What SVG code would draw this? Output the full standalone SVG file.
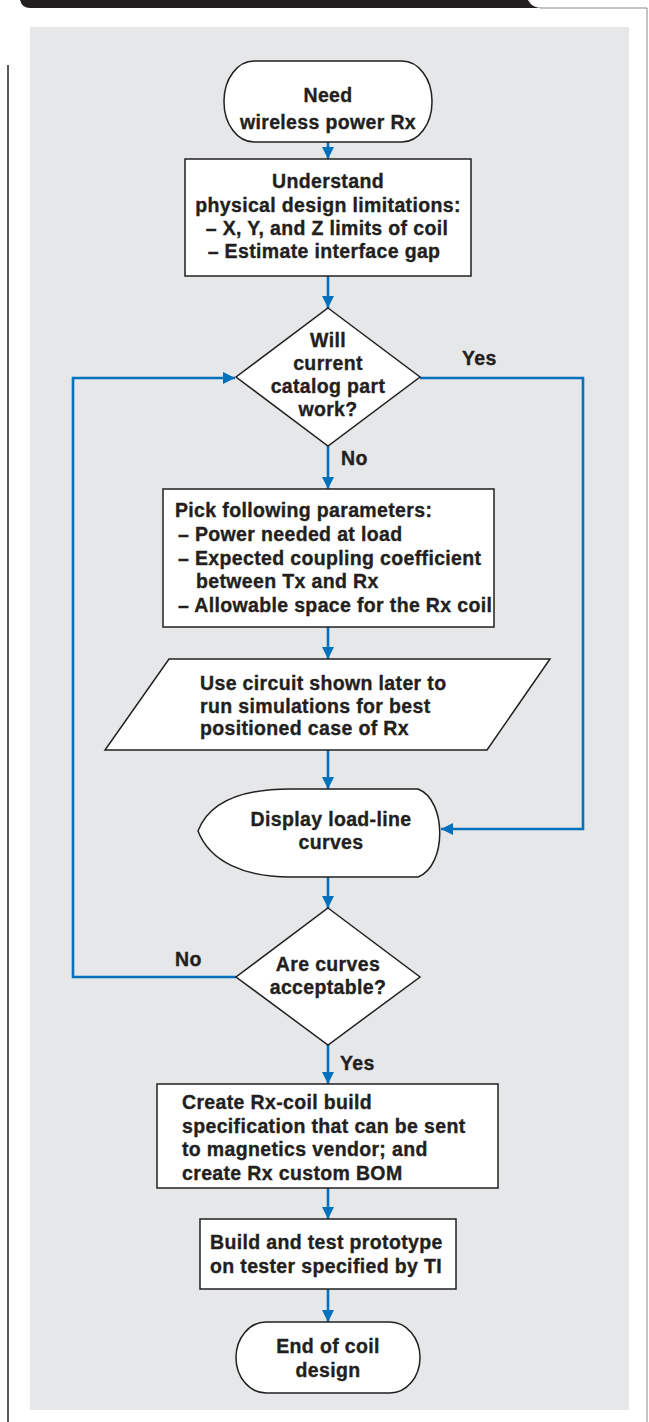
<svg xmlns="http://www.w3.org/2000/svg" width="649" height="1422" viewBox="0 0 649 1422">
  <defs>
    <marker id="arrow" markerUnits="userSpaceOnUse" markerWidth="13" markerHeight="13" refX="12" refY="6" orient="auto">
      <path d="M0,0 L12,6 L0,12 Z" fill="#0071bc"/>
    </marker>
    <style>
      .shape { fill: #ffffff; stroke: #231f20; stroke-width: 1.5; }
      .conn { fill: none; stroke: #0071bc; stroke-width: 2.6; }
      .t { font-family: "Liberation Sans", Arial, sans-serif; font-weight: bold; font-size: 19.5px; letter-spacing: 0.35px; fill: #231f20; stroke: #231f20; stroke-width: 0.35; }
      .c { text-anchor: middle; }
    </style>
  </defs>

  <!-- page frame -->
  <rect x="0" y="0" width="649" height="1422" fill="#ffffff"/>
  <path d="M20,0 L528,0 Q532,8 542,8 L30,8 Q22,8 20,0 Z" fill="#231f20"/>
  <path d="M540,8 L647,8 L647,1422" fill="none" stroke="#8a8a8a" stroke-width="1"/>
  <line x1="8" y1="65" x2="8" y2="1422" stroke="#231f20" stroke-width="1.5"/>
  <rect x="30" y="27" width="599" height="1383" fill="#e6e7e8"/>

  <!-- connectors -->
  <g id="connectors">
    <path class="conn" d="M328,142 L328,159" marker-end="url(#arrow)"/>
    <path class="conn" d="M328,276 L328,308" marker-end="url(#arrow)"/>
    <path class="conn" d="M328,446 L328,489" marker-end="url(#arrow)"/>
    <path class="conn" d="M328,627 L328,659" marker-end="url(#arrow)"/>
    <path class="conn" d="M328,750 L328,789" marker-end="url(#arrow)"/>
    <path class="conn" d="M420,378 L583,378 L583,829 L441,829" marker-end="url(#arrow)"/>
    <path class="conn" d="M328,877 L328,908" marker-end="url(#arrow)"/>
    <path class="conn" d="M236,977 L73,977 L73,378 L235,378" marker-end="url(#arrow)"/>
    <path class="conn" d="M328,1045 L328,1084" marker-end="url(#arrow)"/>
    <path class="conn" d="M328,1188 L328,1219" marker-end="url(#arrow)"/>
    <path class="conn" d="M328,1289 L328,1322" marker-end="url(#arrow)"/>
    <text class="t" x="462" y="365">Yes</text>
    <text class="t" x="341" y="465">No</text>
    <text class="t" x="175" y="966">No</text>
    <text class="t" x="340" y="1070">Yes</text>
  </g>

  <g id="start">
    <rect class="shape" x="224" y="61" width="208" height="81" rx="30" ry="40"/>
    <text class="t c" x="328" y="102">Need</text>
    <text class="t c" x="328" y="129">wireless power Rx</text>
  </g>

  <g id="limits">
    <rect class="shape" x="185" y="159" width="286" height="117"/>
    <text class="t c" x="328" y="188">Understand</text>
    <text class="t c" x="328" y="212">physical design limitations:</text>
    <text class="t c" x="327" y="235">– X, Y, and Z limits of coil</text>
    <text class="t c" x="324" y="258">– Estimate interface gap</text>
  </g>

  <g id="catalog">
    <path class="shape" d="M328,308 L420,377 L328,446 L236,377 Z"/>
    <text class="t c" x="328" y="347">Will</text>
    <text class="t c" x="328" y="370">current</text>
    <text class="t c" x="328" y="393">catalog part</text>
    <text class="t c" x="328" y="416">work?</text>
  </g>

  <g id="parameters">
    <rect class="shape" x="163" y="489" width="331" height="138"/>
    <text class="t" x="175" y="517">Pick following parameters:</text>
    <text class="t" x="178" y="541">– Power needed at load</text>
    <text class="t" x="178" y="565">– Expected coupling coefficient</text>
    <text class="t" x="196" y="588">between Tx and Rx</text>
    <text class="t" x="178" y="612">– Allowable space for the Rx coil</text>
  </g>

  <g id="simulate">
    <path class="shape" d="M169,659 L550,659 L487,750 L105,750 Z"/>
    <text class="t" x="200" y="690">Use circuit shown later to</text>
    <text class="t" x="200" y="713">run simulations for best</text>
    <text class="t" x="200" y="735">positioned case of Rx</text>
  </g>

  <g id="display">
    <path class="shape" d="M198,831 C210,800 245,789 290,789 L418,789 C447,800 447,866 418,877 L290,877 C245,877 210,862 198,831 Z"/>
    <text class="t c" x="331" y="826">Display load-line</text>
    <text class="t c" x="331" y="849">curves</text>
  </g>

  <g id="acceptable">
    <path class="shape" d="M328,908 L420,977 L328,1045 L236,977 Z"/>
    <text class="t c" x="328" y="971">Are curves</text>
    <text class="t c" x="328" y="994">acceptable?</text>
  </g>

  <g id="specification">
    <rect class="shape" x="157" y="1084" width="341" height="104"/>
    <text class="t" x="182" y="1109">Create Rx-coil build</text>
    <text class="t" x="182" y="1133">specification that can be sent</text>
    <text class="t" x="182" y="1156">to magnetics vendor; and</text>
    <text class="t" x="182" y="1180">create Rx custom BOM</text>
  </g>

  <g id="prototype">
    <rect class="shape" x="200" y="1219" width="256" height="70"/>
    <text class="t" x="210" y="1249">Build and test prototype</text>
    <text class="t" x="210" y="1273">on tester specified by TI</text>
  </g>

  <g id="end">
    <rect class="shape" x="236" y="1322" width="184" height="71" rx="30" ry="35.5"/>
    <text class="t c" x="328" y="1353">End of coil</text>
    <text class="t c" x="328" y="1377">design</text>
  </g>
</svg>
